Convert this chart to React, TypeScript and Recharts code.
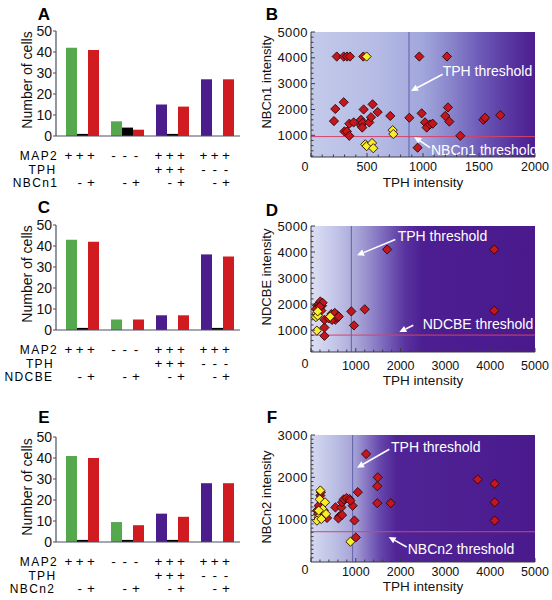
import React from 'react';
import {
  BarChart, Bar, XAxis, YAxis, Cell, ScatterChart, Scatter, ReferenceLine, ReferenceArea,
} from 'recharts';

const FONT = '"Liberation Sans", Arial, Helvetica, sans-serif';
const AXB = '#4a5162';
const AXS = '#3a3a44';
const TXT = '#111';

// ---------------- Bar chart data (A, C, E) ----------------
const groupKeys = ['g1', 'g2', 'g3', 'g4'];
const map2Signs = [['+', '+', '+'], ['-', '-', '-'], ['+', '+', '+'], ['+', '+', '+']];
const tphSigns = [['', '', ''], ['', '', ''], ['+', '+', '+'], ['-', '-', '-']];
const markerSigns = [['', '-', '+'], ['', '-', '+'], ['', '-', '+'], ['', '-', '+']];
const countTicks = [0, 10, 20, 30, 40, 50];

const totalA = [42, 7, 15, 27];
const negA = [1, 4, 1, 0];
const posA = [41, 3, 14, 27];

const totalC = [43, 5, 7, 36];
const negC = [1, 0, 0, 1];
const posC = [42, 5, 7, 35];

const totalE = [41, 9.5, 13.5, 28];
const negE = [1, 1, 1, 0];
const posE = [40, 8, 12, 28];

const firstBarColors = ['#56a84e', '#56a84e', '#4b1c8c', '#4b1c8c'];

// ---------------- Scatter data (B, D, F) ----------------
const bRed: [number, number][] = [
  [230, 4050], [292, 4050], [321, 4050], [348, 4050], [467, 4050], [967, 4050], [1214, 4050],
  [205, 1550], [217, 2020], [292, 2280], [298, 1150], [321, 1150], [342, 980], [342, 1450],
  [381, 1500], [446, 1600], [446, 1380], [461, 1480], [470, 2000], [458, 1300], [520, 1500],
  [536, 1700], [550, 2200], [595, 1900], [708, 1750], [878, 1680], [988, 1850], [1018, 1500],
  [1033, 1300], [1062, 1420], [1086, 1450], [1199, 1750], [1223, 2080], [1235, 1530],
  [1333, 980], [1539, 1600], [1554, 1680], [1690, 1780], [952, 520],
];
const bYellow: [number, number][] = [
  [497, 4050], [729, 1200], [735, 1050], [485, 650], [497, 580], [545, 700], [556, 500],
];

const dRed: [number, number][] = [
  [1700, 4100], [4090, 4100], [4090, 1750], [1200, 1800], [900, 1720], [960, 1180],
  [300, 780], [300, 1100], [300, 1400],
  [134, 1940], [172, 2000], [209, 2100], [246, 1940], [187, 1840], [157, 1750], [231, 1750],
  [112, 1810], [260, 2050], [200, 1900],
  [455, 1620], [507, 1490], [545, 1400], [582, 1580], [470, 1390], [395, 1450], [530, 1660],
  [590, 1490], [620, 1520],
];
const dYellow: [number, number][] = [
  [130, 1650], [110, 1500], [150, 1560], [130, 980], [430, 1520], [150, 1720],
];

const fRed: [number, number][] = [
  [1230, 2550], [1490, 2000], [1480, 1790], [1480, 1390], [1780, 1390], [1045, 1650],
  [930, 1330], [970, 980], [1000, 580], [3720, 1950], [4100, 1850], [4100, 1410], [4100, 980],
  [545, 1290], [634, 1080], [679, 1290], [694, 1410], [731, 1480], [791, 1510], [858, 1490],
  [612, 1030], [694, 1110], [880, 1450],
  [134, 1215], [209, 1570], [246, 1410], [284, 1215], [358, 1040], [172, 1330], [157, 1135],
  [220, 1650],
];
const fYellow: [number, number][] = [
  [209, 1690], [194, 1480], [313, 1410], [261, 1250], [336, 1135], [172, 1056], [134, 977],
  [231, 1016], [880, 480], [172, 1215],
];

const bXMajor = [0, 500, 1000, 1500, 2000];
const dfXMajor = [0, 1000, 2000, 3000, 4000, 5000];
const bdYMajor = [1000, 2000, 3000, 4000, 5000];
const fYMajor = [1000, 2000, 3000];

const tphThresholds = { B: 875, D: 900, F: 930 };
const markerThresholds = { B: 950, D: 810, F: 715 };

// annotation arrows in data units: tail, head
const bAnno = [
  { text: 'TPH threshold', tail: { x: 1176, y: 3362 }, head: { x: 893, y: 2716 }, dx: 0, dy: 2 },
  { text: 'NBCn1 threshold', tail: { x: 1062, y: 524 }, head: { x: 922, y: 934 }, dx: 1, dy: 7.7 },
];
const dAnno = [
  { text: 'TPH threshold', tail: { x: 1882, y: 4478 }, head: { x: 1027, y: 3875 }, dx: 2.4, dy: 1.7 },
  { text: 'NDCBE threshold', tail: { x: 2283, y: 1186 }, head: { x: 1971, y: 928 }, dx: 9.4, dy: 3.3 },
];
const fAnno = [
  { text: 'TPH threshold', tail: { x: 1748, y: 2662 }, head: { x: 1027, y: 2226 }, dx: 1.7, dy: 2.4 },
  { text: 'NBCn2 threshold', tail: { x: 2136, y: 355 }, head: { x: 1734, y: 592 }, dx: 1, dy: 7.3 },
];

// background gradient stops (style)
const gradB: [number, string][] = [
  [0, '#c3caea'], [0.3, '#b5bbe4'], [0.5, '#a1a6dc'], [0.62, '#8a86cc'], [0.75, '#6e5cb8'],
  [0.88, '#5938a2'], [1, '#4c1d90'],
];
const gradD: [number, string][] = [
  [0, '#dee1f3'], [0.1, '#c4c7e9'], [0.2, '#aaa7d7'], [0.27, '#9286ca'], [0.34, '#7560b8'],
  [0.42, '#59339f'], [0.5, '#4c1e91'], [1, '#4a1a8d'],
];
const gradF: [number, string][] = [
  [0, '#d5d9f0'], [0.1, '#bdc1e5'], [0.19, '#a6a3d6'], [0.25, '#8674c3'], [0.31, '#6546ab'],
  [0.38, '#502496'], [1, '#4a1a8d'],
];

const range = (a: number, b: number, s: number) => {
  const r: number[] = [];
  for (let v = a; v <= b + 1e-9; v += s) r.push(Math.round(v));
  return r;
};

// ---------------- helpers ----------------
const RotTitle = ({ tx, ty, text, size = 14 }: any) => (
  <text x={tx} y={ty} transform={`rotate(-90 ${tx} ${ty})`} textAnchor="middle"
    fontSize={size} fontFamily={FONT} fill={TXT}>{text}</text>
);
const PlainTitle = ({ tx, ty, text, size = 13.5 }: any) => (
  <text x={tx} y={ty} textAnchor="middle" fontSize={size} fontFamily={FONT} fill={TXT}>{text}</text>
);

const diamond = (fill: string) => (props: any) => {
  const { cx, cy } = props;
  if (cx == null || cy == null) return <g />;
  const r = 4.6;
  return (
    <path d={`M${cx},${cy - r}L${cx + r},${cy}L${cx},${cy + r}L${cx - r},${cy}Z`}
      fill={fill} stroke="#2a0808" strokeWidth={0.9} />
  );
};

const arrowShape = (text: string, dx: number, dy: number) => (props: any) => {
  const { x1, y1, x2, y2 } = props;
  if ([x1, y1, x2, y2].some((v) => v == null || Number.isNaN(v))) return <g />;
  const ang = Math.atan2(y2 - y1, x2 - x1);
  const c = Math.cos(ang);
  const s = Math.sin(ang);
  const L = 7;
  const W = 3.4;
  const bx = x2 - L * c;
  const by = y2 - L * s;
  return (
    <g>
      <line x1={x1} y1={y1} x2={bx} y2={by} stroke="#fff" strokeWidth={1.6} />
      <path d={`M${x2},${y2}L${bx + W * s},${by - W * c}L${bx - W * s},${by + W * c}Z`} fill="#fff" />
      <text x={x1 + dx} y={y1 + dy} fill="#fff" fontSize={14} fontFamily={FONT}>{text}</text>
    </g>
  );
};

// ---------------- Bar panel ----------------
type BarCfg = {
  total: number[]; neg: number[]; pos: number[];
  rowNames: string[]; rowCenters: number[];
  top: number; bottom: number; yTitleY: number;
};

function BarPanel({ cfg }: { cfg: BarCfg }) {
  const data = groupKeys.map((k, i) => ({ k, total: cfg.total[i], neg: cfg.neg[i], pos: cfg.pos[i] }));
  const rows = [map2Signs, tphSigns, markerSigns];
  const dys = [24, 37.5, 51];
  const offs = [-14, -2.7, 8.5];
  const xAxisH = 600 - cfg.bottom;
  const Tick = (props: any) => {
    const { x, y, index } = props;
    return (
      <g>
        {rows.map((row, r) => row[index].map((s, k) => (s ? (
          <text key={`${r}-${k}`} x={x + offs[k]} y={y + dys[r]} textAnchor="middle"
            fontFamily={FONT} fontSize={13.5} fill="#000" stroke="none">{s}</text>
        ) : null)))}
        {index === 0 && cfg.rowNames.map((n, r) => (
          <text key={n} x={cfg.rowCenters[r]} y={y + dys[r]} textAnchor="middle"
            fontFamily={FONT} fontSize={12} letterSpacing={1.4} fill="#000" stroke="none">{n}</text>
        ))}
      </g>
    );
  };
  return (
    <BarChart width={552} height={600} data={data} barGap={0} barSize={11}
      margin={{ top: cfg.top, right: 312, bottom: 0, left: 0 }}>
      <XAxis dataKey="k" type="category" padding={{ left: 4, right: 0 }} height={xAxisH}
        axisLine={{ stroke: AXB, strokeWidth: 1.2 }} tickLine={false} tickSize={0} tickMargin={0}
        interval={0} tick={(p: any) => <Tick {...p} />} />
      <YAxis type="number" domain={[0, 50]} ticks={countTicks} interval={0} width={56}
        axisLine={{ stroke: AXB, strokeWidth: 1.2 }} tickLine={{ stroke: AXB }} tickSize={3} tickMargin={1}
        tick={{ fontSize: 14, fill: TXT, fontFamily: FONT }}
        label={<RotTitle tx={32} ty={cfg.yTitleY} text="Number of cells" />} />
      <Bar dataKey="total" isAnimationActive={false}>
        {data.map((d, i) => <Cell key={d.k} fill={firstBarColors[i]} />)}
      </Bar>
      <Bar dataKey="neg" fill="#000" isAnimationActive={false} />
      <Bar dataKey="pos" fill="#d01c20" isAnimationActive={false} />
    </BarChart>
  );
}

// ---------------- Scatter panel ----------------
type ScCfg = {
  id: string; top: number; bottom: number;
  xMax: number; xMajor: number[]; xMinorStep: number;
  yMin: number; yMax: number; yMajor: number[]; yMinorStep: number;
  red: [number, number][]; yellow: [number, number][];
  tph: number; thr: number; grad: [number, string][];
  anno: { text: string; tail: any; head: any; dx: number; dy: number }[];
  xLabelDy: number; zeroDy: number; xTitleY: number; yTitle: string; yTitleY: number;
};

function ScatterPanel({ cfg }: { cfg: ScCfg }) {
  const red = cfg.red.map(([x, y]) => ({ x, y }));
  const yellow = cfg.yellow.map(([x, y]) => ({ x, y }));
  const xTicks = range(0, cfg.xMax, cfg.xMinorStep);
  const yStart = Math.ceil(cfg.yMin / cfg.yMinorStep) * cfg.yMinorStep;
  const yTicks = range(yStart === 0 ? cfg.yMinorStep : yStart, cfg.yMax, cfg.yMinorStep);
  const XTick = (props: any) => {
    const { x, y, payload } = props;
    const v = payload.value;
    const major = cfg.xMajor.includes(v);
    return (
      <g>
        <line x1={x} x2={x} y1={y} y2={y - (major ? 4 : 2.5)} stroke={AXS} />
        {major && (
          <text x={v === 0 ? x - 6 : x} y={y + cfg.xLabelDy + (v === 0 ? cfg.zeroDy : 0)} textAnchor="middle"
            fontSize={12.5} fontFamily={FONT} fill={TXT} stroke="none">{v}</text>
        )}
      </g>
    );
  };
  const YTick = (props: any) => {
    const { x, y, payload } = props;
    const v = payload.value;
    const major = cfg.yMajor.includes(v);
    return (
      <g>
        <line x1={x} x2={x + (major ? 4 : 2.5)} y1={y} y2={y} stroke={AXS} />
        {major && (
          <text x={x - 3} y={y + 4.6} textAnchor="end" fontSize={13} fontFamily={FONT} fill={TXT}
            stroke="none" letterSpacing={0.4}>{v}</text>
        )}
      </g>
    );
  };
  return (
    <ScatterChart width={552} height={600}
      margin={{ top: cfg.top, right: 17, bottom: 0, left: 266 }}>
      <defs>
        <linearGradient id={cfg.id} x1="0" y1="0" x2="1" y2="0">
          {cfg.grad.map(([o, c]) => <stop key={o} offset={o} stopColor={c} />)}
        </linearGradient>
      </defs>
      <XAxis type="number" dataKey="x" domain={[0, cfg.xMax]} ticks={xTicks} interval={0}
        allowDataOverflow height={600 - cfg.bottom} tickLine={false} tickSize={0} tickMargin={0}
        axisLine={{ stroke: AXS }} tick={(p: any) => <XTick {...p} />}
        label={<PlainTitle tx={423} ty={cfg.xTitleY} text="TPH intensity" />} />
      <YAxis type="number" dataKey="y" domain={[cfg.yMin, cfg.yMax]} ticks={yTicks} interval={0}
        allowDataOverflow width={45} tickLine={false} tickSize={0} tickMargin={0}
        axisLine={{ stroke: AXS }} tick={(p: any) => <YTick {...p} />}
        label={<RotTitle tx={271} ty={cfg.yTitleY} text={cfg.yTitle} size={13} />} />
      <ReferenceArea x1={0} x2={cfg.xMax} y1={cfg.yMin} y2={cfg.yMax} fill={`url(#${cfg.id})`}
        fillOpacity={1} stroke="none" ifOverflow="visible" />
      <ReferenceLine x={cfg.tph} stroke="#5c5fa6" strokeWidth={1} />
      <ReferenceLine y={cfg.thr} stroke="#d4436c" strokeWidth={1} />
      <Scatter data={red} shape={diamond('#c4161c')} isAnimationActive={false} />
      <Scatter data={yellow} shape={diamond('#f4ee2c')} isAnimationActive={false} />
      {cfg.anno.map((a) => (
        <ReferenceLine key={a.text} segment={[a.tail, a.head]} ifOverflow="visible"
          shape={arrowShape(a.text, a.dx, a.dy)} />
      ))}
    </ScatterChart>
  );
}

// ---------------- configs ----------------
const cfgA: BarCfg = { total: totalA, neg: negA, pos: posA, rowNames: ['MAP2', 'TPH', 'NBCn1'], rowCenters: [39, 42.5, 35.5], top: 31, bottom: 136, yTitleY: 80 };
const cfgC: BarCfg = { total: totalC, neg: negC, pos: posC, rowNames: ['MAP2', 'TPH', 'NDCBE'], rowCenters: [39, 40, 29], top: 225, bottom: 330, yTitleY: 274 };
const cfgE: BarCfg = { total: totalE, neg: negE, pos: posE, rowNames: ['MAP2', 'TPH', 'NBCn2'], rowCenters: [39, 42.5, 32.5], top: 437, bottom: 542, yTitleY: 487 };

const cfgB: ScCfg = {
  id: 'gradB', top: 32, bottom: 157, xMax: 2000, xMajor: bXMajor, xMinorStep: 100,
  yMin: 160, yMax: 5000, yMajor: bdYMajor, yMinorStep: 200, red: bRed, yellow: bYellow,
  tph: tphThresholds.B, thr: markerThresholds.B, grad: gradB, anno: bAnno,
  xLabelDy: 14, zeroDy: 0, xTitleY: 186.5, yTitle: 'NBCn1 intensity', yTitleY: 82,
};
const cfgD: ScCfg = {
  id: 'gradD', top: 226, bottom: 352, xMax: 5000, xMajor: dfXMajor, xMinorStep: 200,
  yMin: 160, yMax: 5000, yMajor: bdYMajor, yMinorStep: 200, red: dRed, yellow: dYellow,
  tph: tphThresholds.D, thr: markerThresholds.D, grad: gradD, anno: dAnno,
  xLabelDy: 17.5, zeroDy: -2, xTitleY: 385, yTitle: 'NDCBE intensity', yTitleY: 277,
};
const cfgF: ScCfg = {
  id: 'gradF', top: 435, bottom: 562, xMax: 5000, xMajor: dfXMajor, xMinorStep: 200,
  yMin: 0, yMax: 3000, yMajor: fYMajor, yMinorStep: 100, red: fRed, yellow: fYellow,
  tph: tphThresholds.F, thr: markerThresholds.F, grad: gradF, anno: fAnno,
  xLabelDy: 14, zeroDy: -2, xTitleY: 591, yTitle: 'NBCn2 intensity', yTitleY: 497,
};

const panelLetters = [
  { t: 'A', x: 44, y: 20 }, { t: 'B', x: 272, y: 20 },
  { t: 'C', x: 44, y: 213 }, { t: 'D', x: 272, y: 216 },
  { t: 'E', x: 44, y: 423 }, { t: 'F', x: 272, y: 423 },
];

const Layer = ({ children }: any) => (
  <div style={{ position: 'absolute', left: 0, top: 0, width: 552, height: 600 }}>{children}</div>
);

export default function App() {
  return (
    <div style={{ position: 'absolute', left: 0, top: 0, width: 552, height: 600, background: '#fff', overflow: 'hidden' }}>
      <Layer><BarPanel cfg={cfgA} /></Layer>
      <Layer><BarPanel cfg={cfgC} /></Layer>
      <Layer><BarPanel cfg={cfgE} /></Layer>
      <Layer><ScatterPanel cfg={cfgB} /></Layer>
      <Layer><ScatterPanel cfg={cfgD} /></Layer>
      <Layer><ScatterPanel cfg={cfgF} /></Layer>
      <svg width={552} height={600} style={{ position: 'absolute', left: 0, top: 0, pointerEvents: 'none' }}>
        {panelLetters.map((p) => (
          <text key={p.t} x={p.x} y={p.y} textAnchor="middle" fontSize={17} fontWeight="bold"
            fontFamily={FONT} fill="#000">{p.t}</text>
        ))}
      </svg>
    </div>
  );
}
